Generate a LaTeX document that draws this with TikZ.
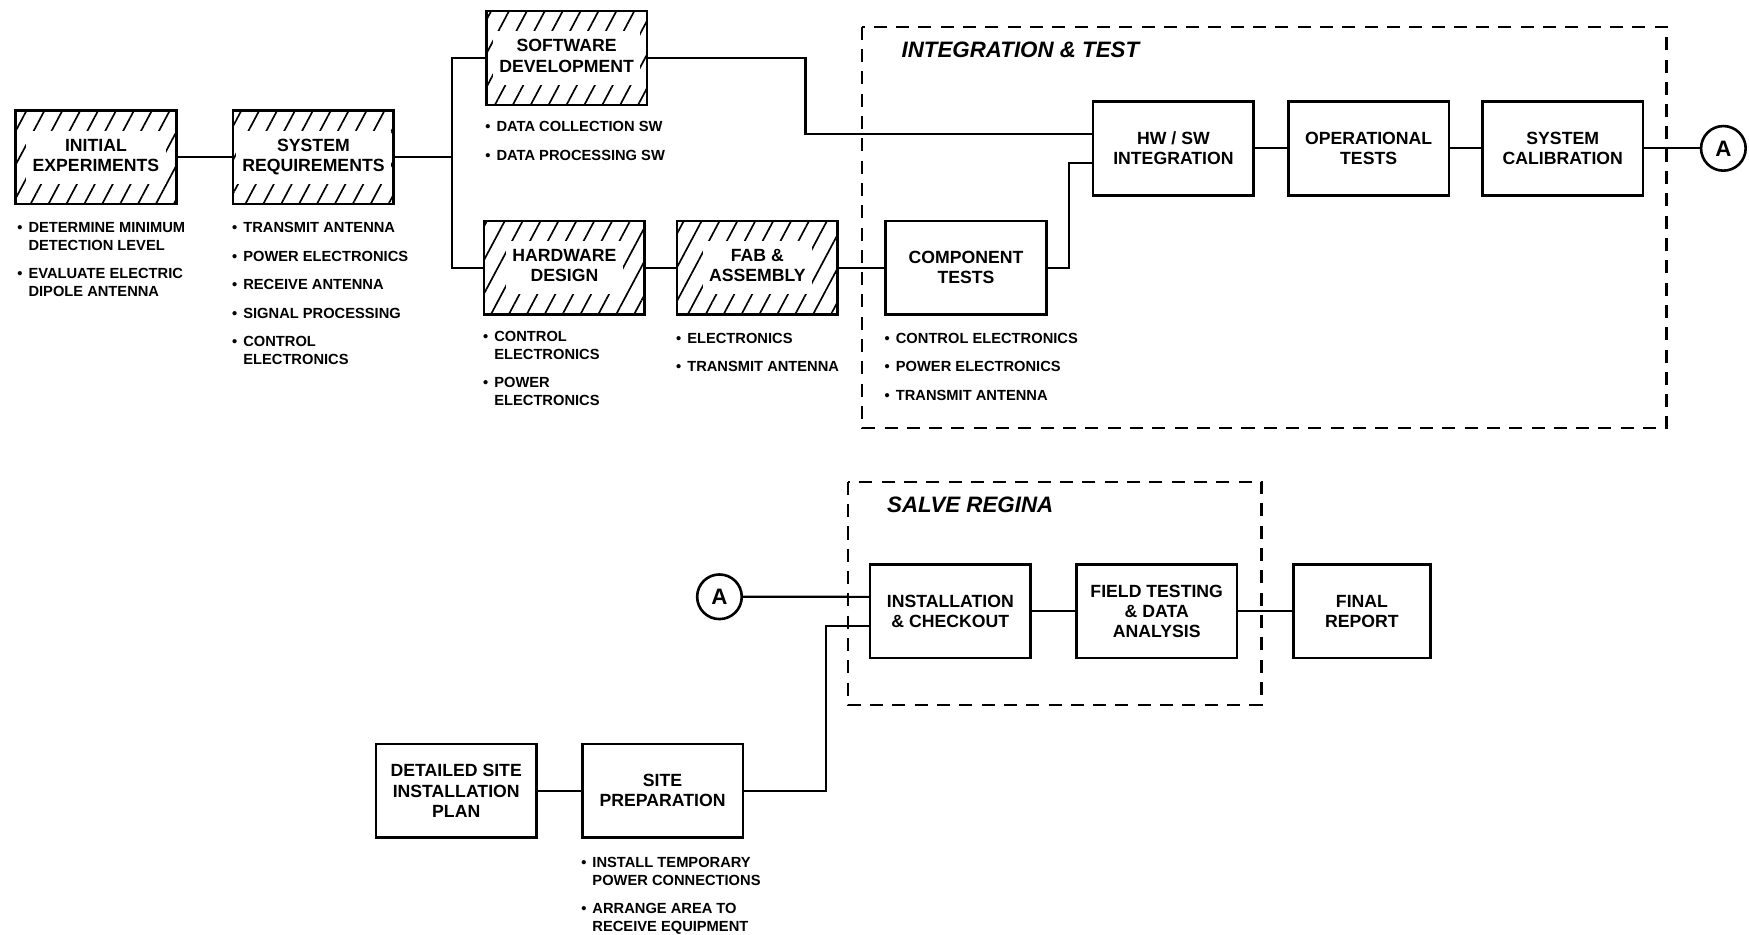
\documentclass[tikz,border=0pt]{standalone}
\usepackage{fontspec}
\setmainfont{Liberation Sans}
\usetikzlibrary{positioning}
\usetikzlibrary{patterns.meta}
\newcommand{\boxfont}{\fontsize{9.5}{10.8}\selectfont\bfseries}
\newcommand{\listfont}{\fontsize{7.9}{9.6}\selectfont\bfseries}
\newcommand{\clearbg}[1]{{\setlength{\fboxsep}{3.5pt}\colorbox{white}{\begin{tabular}{@{}c@{}}#1\end{tabular}}}}
\newcommand{\bul}{\makebox[6pt][l]{\textbullet}}
\newcommand{\ind}{\hspace*{6pt}}
\def\gap{\\[5.7pt]}
\tikzset{
task/.style={draw,line width=1.4pt,minimum width=86.4pt,minimum height=50.4pt,inner sep=0pt,font=\boxfont,align=center},
hatched/.style={task,align=none,pattern={Lines[angle=62,distance=8.5pt,line width=0.9pt]}},
notes/.style={font=\listfont,align=left,inner sep=0pt,anchor=north west},
link/.style={line width=1.2pt},
phase/.style={line width=1.2pt,dash pattern=on 7pt off 5pt},
phasetitle/.style={font=\fontsize{12}{14}\selectfont\bfseries\itshape,anchor=west,inner sep=0pt},
offpage/.style={draw,circle,line width=1.4pt,minimum size=24pt,inner sep=0pt,font=\fontsize{12}{14}\selectfont\bfseries},
}
\begin{document}
\begin{tikzpicture}[x=0.6pt,y=-0.6pt]
\useasboundingbox (0,0) rectangle (1568,838);
%Phase frames
\draw[phase] (773,24) rectangle (1494,384);
\node[phasetitle] (inttitle) at (808,45) {INTEGRATION \& TEST};
\draw[phase] (760,432) rectangle (1131,632);
\node[phasetitle] (salvetitle) at (795,453) {SALVE REGINA};

%Place the nodes
\node[hatched] (init) at (86,141) {\clearbg{INITIAL\\EXPERIMENTS}};
\node[hatched] (sysreq) at (281,141) {\clearbg{SYSTEM\\REQUIREMENTS}};
\node[hatched] (swdev) at (508,52) {\clearbg{SOFTWARE\\DEVELOPMENT}};
\node[hatched] (hwdes) at (506,240) {\clearbg{HARDWARE\\DESIGN}};
\node[hatched] (fab) at (679,240) {\clearbg{FAB \&\\ASSEMBLY}};
\node[task] (comp) at (866,240) {COMPONENT\\TESTS};
\node[task] (hwsw) at (1052,133) {HW / SW\\INTEGRATION};
\node[task] (optest) at (1227,133) {OPERATIONAL\\TESTS};
\node[task] (syscal) at (1401,133) {SYSTEM\\CALIBRATION};
\node[offpage] (outA) at (1545,133) {A};

\node[offpage] (inA) at (645,535) {A};
\node[task] (install) at (852,548) {INSTALLATION\\\& CHECKOUT};
\node[task] (field) at (1037,548) {FIELD TESTING\\\& DATA\\ANALYSIS};
\node[task, minimum width=73.8pt] (final) at (1221,548) {FINAL\\REPORT};
\node[task] (detail) at (409,709) {DETAILED SITE\\INSTALLATION\\PLAN};
\node[task] (siteprep) at (594,709) {SITE\\PREPARATION};

%Notes under the boxes
\node[below=9pt of init.south west, notes, xshift=1.2pt] (initnotes) {\bul DETERMINE MINIMUM\\\ind DETECTION LEVEL\gap\bul EVALUATE ELECTRIC\\\ind DIPOLE ANTENNA};
\node[below=9pt of sysreq.south west, notes] (sysreqnotes) {\bul TRANSMIT ANTENNA\gap\bul POWER ELECTRONICS\gap\bul RECEIVE ANTENNA\gap\bul SIGNAL PROCESSING\gap\bul CONTROL\\\ind ELECTRONICS};
\node[below=8pt of swdev.south west, notes] (swnotes) {\bul DATA COLLECTION SW\gap\bul DATA PROCESSING SW};
\node[below=8pt of hwdes.south west, notes] (hwnotes) {\bul CONTROL\\\ind ELECTRONICS\gap\bul POWER\\\ind ELECTRONICS};
\node[below=9pt of fab.south west, notes] (fabnotes) {\bul ELECTRONICS\gap\bul TRANSMIT ANTENNA};
\node[below=9pt of comp.south west, notes] (compnotes) {\bul CONTROL ELECTRONICS\gap\bul POWER ELECTRONICS\gap\bul TRANSMIT ANTENNA};
\node[below=9.6pt of siteprep.south west, notes] (prepnotes) {\bul INSTALL TEMPORARY\\\ind POWER CONNECTIONS\gap\bul ARRANGE AREA TO\\\ind RECEIVE EQUIPMENT};

%Upper flow
\draw[link] (init) -- (sysreq);
\draw[link] (sysreq.east) -- ++(51,0) coordinate (fork);
\draw[link] (swdev.west) -| (fork) |- (hwdes.west);
\draw[link] (swdev.east) -- ++(141,0) |- (hwsw.170);
\draw[link] (hwdes) -- (fab);
\draw[link] (fab) -- (comp);
\draw[link] (comp.east) -- ++(19,0) |- (hwsw.190);
\draw[link] (hwsw) -- (optest);
\draw[link] (optest) -- (syscal);
\draw[link] (syscal) -- (outA);

%Lower flow
\draw[link] (inA.east) -- (install.170);
\draw[link] (detail) -- (siteprep);
\draw[link] (siteprep.east) -- ++(73,0) |- (install.190);
\draw[link] (install) -- (field);
\draw[link] (field) -- (final);
\end{tikzpicture}
\end{document}
